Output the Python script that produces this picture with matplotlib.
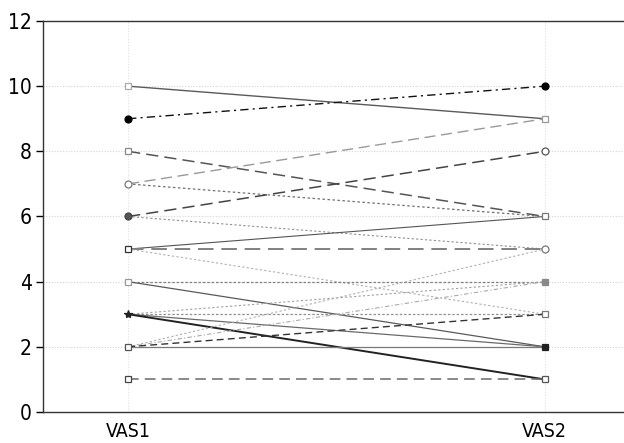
import matplotlib
matplotlib.use("Agg")
import matplotlib.pyplot as plt

plt.rcParams["font.family"] = ["DejaVu Sans", "Liberation Sans"]
plt.rcParams["font.stretch"] = "condensed"

# paired scores, one line per subject
times = ["VAS1", "VAS2"]
vas1 = [10, 9, 8, 7, 7, 6, 6, 5, 5, 5, 4, 4, 3, 3, 3, 3, 2, 2, 2, 2, 1]
vas2 = [9, 10, 6, 9, 6, 8, 5, 6, 5, 3, 4, 2, 4, 3, 2, 1, 5, 4, 3, 2, 1]

# per-line look: colour, dash pattern, width
line_colors = ["#5a5a5a", "#111111", "#555555", "#9a9a9a", "#707070", "#444444",
               "#909090", "#555555", "#808080", "#b0b0b0", "#808080", "#5a5a5a",
               "#a0a0a0", "#909090", "#6a6a6a", "#222222", "#b0b0b0", "#aaaaaa",
               "#333333", "#7a7a7a", "#6a6a6a"]
line_dashes = [None, (6, 3, 1.5, 3), (8, 4), (8, 4), (2, 2), (8, 4),
               (2, 2), None, (8, 4), (2, 2), (2, 1.5), None,
               (2, 2), (2, 1.5), None, None, (2, 2), (4, 2, 1, 2),
               (5, 3), None, (7, 4)]
line_widths = [1.0, 1.0, 1.1, 1.0, 0.9, 1.1, 0.8, 0.8, 1.4, 0.8, 0.9, 0.9,
               0.8, 0.9, 0.9, 1.4, 0.8, 0.8, 1.0, 0.9, 1.1]

# markers drawn at each value level of each time point
m1_levels = [10, 9, 8, 7, 6, 5, 4, 3, 2, 1]
m1_shape = ["s", "o", "s", "o", "o", "s", "s", "*", "s", "s"]
m1_face = ["white", "black", "white", "white", "#555555", "white", "white", "#222222", "white", "white"]
m1_edge = ["#aaaaaa", "black", "#888888", "#777777", "#444444", "#333333", "#999999", "#222222", "#555555", "#444444"]
m2_levels = [10, 9, 8, 6, 5, 4, 3, 2, 1]
m2_shape = ["o", "s", "o", "s", "o", "s", "s", "s", "s"]
m2_face = ["black", "white", "white", "white", "white", "#888888", "white", "#222222", "white"]
m2_edge = ["black", "#999999", "#555555", "#777777", "#777777", "#888888", "#777777", "#222222", "#555555"]

fig = plt.figure(figsize=(6.24, 4.43), dpi=100)
ax = fig.add_axes([0.069, 0.070, 0.931, 0.8826])

xs = [1, 2]
for i in range(len(vas1)):
    ln, = ax.plot(xs, [vas1[i], vas2[i]], color=line_colors[i], lw=line_widths[i], zorder=2)
    if line_dashes[i] is not None:
        ln.set_dashes(line_dashes[i])

for lv, sh, fc, ec in zip(m1_levels, m1_shape, m1_face, m1_edge):
    ax.plot(1, lv, marker=sh, ms=6 if sh == "*" else 5, mfc=fc, mec=ec, mew=0.9, ls="none", zorder=3)
for lv, sh, fc, ec in zip(m2_levels, m2_shape, m2_face, m2_edge):
    ax.plot(2, lv, marker=sh, ms=5, mfc=fc, mec=ec, mew=0.9, ls="none", zorder=3)

# dotted grid
for yv in [2, 4, 6, 8, 10]:
    ax.axhline(yv, color="#d4d4d4", lw=0.8, ls=(0, (1, 1.5)), zorder=1)
for xv in xs:
    ax.axvline(xv, color="#e0e0e0", lw=0.8, ls=(0, (1, 1.5)), zorder=1)

ax.set_xlim(0.796, 2.19)
ax.set_ylim(0, 12)
ax.set_yticks(range(0, 13, 2))
ax.set_xticks(xs)
ax.set_xticklabels(times)
ax.tick_params(axis="x", length=0, pad=7, labelsize=14)
ax.tick_params(axis="y", length=5, width=1, direction="out", labelsize=15, pad=3)

ax.spines["right"].set_visible(False)
for s in ["left", "top", "bottom"]:
    ax.spines[s].set_color("#333333")
    ax.spines[s].set_linewidth(1.0)

fig.savefig("out.png", dpi=100)
